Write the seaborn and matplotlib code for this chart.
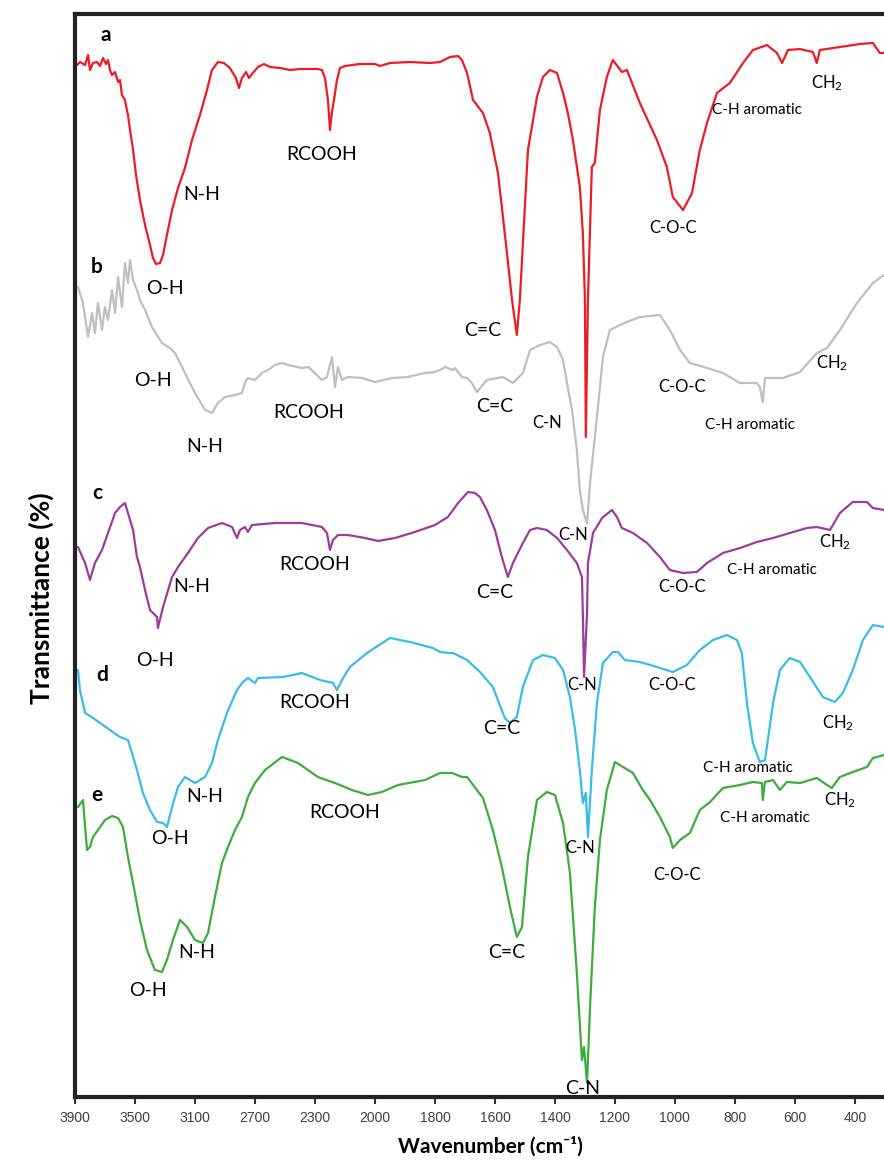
import numpy as np
import pandas as pd
import seaborn as sns
from matplotlib import pyplot as plt

# tick wavenumbers of the (non-linear) x axis
tick_wn = [3900, 3500, 3100, 2700, 2300, 2000, 1800, 1600, 1400, 1200, 1000, 800, 600, 400]

# spectra: wavenumber (cm-1) and stacked transmittance (arbitrary offset units)
a_wn = [3900, 3867, 3833, 3813, 3800, 3780, 3753, 3733, 3713, 3693, 3680, 3667, 3653, 3633, 3613, 3600,
        3587, 3567, 3547, 3533, 3513, 3493, 3467, 3433, 3400, 3380, 3360, 3333, 3313, 3287, 3253, 3213,
        3167, 3120, 3067, 3020, 2987, 2947, 2907, 2867, 2827, 2807, 2787, 2760, 2740, 2720, 2680, 2640,
        2600, 2533, 2467, 2400, 2285, 2265, 2250, 2235, 2225, 2215, 2205, 2190, 2175, 2150, 2075, 2000,
        1983, 1950, 1883, 1817, 1783, 1750, 1723, 1710, 1693, 1673, 1640, 1617, 1590, 1577, 1560, 1543,
        1527, 1517, 1490, 1460, 1440, 1417, 1393, 1373, 1357, 1340, 1317, 1307, 1300, 1297, 1290, 1277,
        1267, 1250, 1227, 1207, 1177, 1160, 1117, 1060, 1027, 1007, 973, 943, 917, 893, 860, 817,
        773, 740, 693, 660, 643, 623, 583, 540, 527, 517, 450, 383, 340, 317, 303]
a_t = [1030, 1035, 1032, 1042, 1027, 1034, 1035, 1031, 1039, 1033, 1037, 1027, 1022, 1025, 1015, 1017,
       1002, 997, 982, 967, 947, 922, 897, 872, 852, 839, 833, 834, 842, 862, 887, 909,
       929, 957, 982, 1007, 1027, 1035, 1034, 1029, 1019, 1009, 1019, 1025, 1019, 1023, 1030, 1033,
       1030, 1029, 1027, 1028, 1028, 1027, 1019, 997, 967, 985, 997, 1017, 1029, 1031, 1033, 1033,
       1031, 1034, 1035, 1034, 1035, 1040, 1041, 1037, 1024, 997, 984, 964, 924, 890, 844, 797,
       762, 797, 947, 1000, 1020, 1027, 1024, 1004, 984, 957, 910, 864, 797, 660, 797, 930,
       934, 987, 1020, 1037, 1025, 1027, 994, 957, 930, 900, 887, 904, 947, 974, 1004, 1014,
       1034, 1047, 1052, 1044, 1034, 1047, 1048, 1045, 1034, 1047, 1050, 1053, 1054, 1044, 1044]

b_wn = [3880, 3847, 3813, 3787, 3767, 3747, 3720, 3700, 3680, 3653, 3633, 3613, 3587, 3567, 3547, 3533,
        3513, 3487, 3467, 3433, 3387, 3320, 3267, 3233, 3167, 3100, 3033, 2987, 2947, 2900, 2833, 2787,
        2767, 2747, 2700, 2653, 2613, 2567, 2520, 2480, 2387, 2343, 2265, 2240, 2215, 2200, 2185, 2165,
        2135, 2065, 2000, 1943, 1890, 1833, 1800, 1783, 1767, 1740, 1733, 1710, 1693, 1677, 1660, 1627,
        1573, 1540, 1507, 1483, 1450, 1417, 1393, 1373, 1360, 1343, 1327, 1317, 1307, 1293, 1283, 1260,
        1240, 1217, 1183, 1160, 1117, 1050, 1017, 983, 950, 893, 840, 783, 727, 717, 707, 700,
        640, 583, 527, 493, 450, 393, 340, 303]
b_t = [810, 794, 760, 784, 764, 794, 767, 790, 777, 807, 784, 820, 790, 834, 814, 837,
       817, 807, 797, 787, 770, 754, 749, 744, 724, 704, 687, 684, 694, 700, 702, 704,
       714, 719, 717, 724, 727, 732, 734, 732, 729, 730, 717, 720, 740, 710, 730, 717,
       720, 719, 715, 719, 720, 724, 725, 727, 730, 727, 729, 720, 719, 714, 705, 717,
       720, 714, 724, 747, 752, 755, 750, 737, 714, 687, 647, 607, 587, 574, 614, 680,
       740, 767, 772, 775, 780, 782, 767, 747, 734, 729, 724, 714, 714, 710, 695, 719,
       719, 725, 744, 749, 767, 794, 814, 822]

c_wn = [3880, 3833, 3800, 3767, 3720, 3680, 3633, 3600, 3567, 3547, 3513, 3487, 3467, 3433, 3400, 3353,
        3347, 3313, 3253, 3213, 3147, 3080, 3013, 2920, 2853, 2820, 2800, 2767, 2747, 2720, 2567, 2387,
        2265, 2240, 2225, 2210, 2185, 2135, 2050, 1990, 1933, 1867, 1800, 1757, 1723, 1690, 1667, 1650,
        1627, 1600, 1577, 1557, 1540, 1507, 1483, 1460, 1427, 1393, 1360, 1327, 1310, 1307, 1303, 1293,
        1290, 1273, 1243, 1210, 1193, 1177, 1140, 1093, 1050, 1017, 973, 927, 893, 840, 783, 727,
        673, 617, 560, 527, 483, 450, 407, 360, 340, 303]
c_t = [550, 534, 517, 534, 547, 564, 584, 590, 594, 584, 567, 540, 530, 507, 487, 480,
       469, 490, 520, 530, 544, 559, 569, 574, 570, 559, 567, 570, 565, 572, 574, 574,
       570, 564, 547, 557, 562, 562, 559, 556, 559, 565, 572, 580, 594, 605, 604, 600,
       587, 567, 540, 520, 534, 554, 567, 569, 567, 559, 547, 534, 520, 484, 420, 484,
       534, 564, 579, 587, 580, 569, 564, 554, 540, 527, 524, 525, 534, 544, 549, 555,
       559, 564, 569, 570, 567, 584, 595, 595, 589, 587]

d_wn = [3880, 3867, 3833, 3780, 3733, 3667, 3600, 3547, 3520, 3487, 3447, 3400, 3353, 3313, 3287, 3253,
        3213, 3167, 3100, 3033, 2987, 2947, 2887, 2820, 2780, 2747, 2700, 2680, 2513, 2387, 2275, 2210,
        2190, 2165, 2125, 2040, 1950, 1883, 1807, 1783, 1750, 1740, 1693, 1650, 1607, 1567, 1550, 1527,
        1507, 1473, 1440, 1400, 1373, 1350, 1333, 1317, 1307, 1297, 1290, 1277, 1260, 1240, 1207, 1190,
        1167, 1117, 1060, 1007, 960, 917, 873, 827, 793, 777, 760, 740, 717, 700, 690, 673,
        650, 617, 583, 550, 507, 467, 440, 407, 373, 340, 303]
d_t = [427, 407, 384, 379, 374, 367, 360, 357, 344, 327, 304, 287, 275, 274, 270, 290,
       310, 320, 314, 320, 334, 357, 384, 407, 415, 419, 414, 419, 420, 424, 417, 414,
       407, 417, 430, 444, 459, 455, 449, 445, 444, 444, 437, 425, 410, 379, 374, 380,
       410, 437, 442, 439, 427, 400, 367, 327, 294, 304, 260, 327, 394, 434, 445, 445,
       437, 435, 430, 425, 432, 447, 457, 462, 457, 444, 394, 354, 335, 337, 357, 394,
       427, 439, 435, 420, 400, 395, 404, 427, 457, 472, 470]

e_wn = [3880, 3847, 3820, 3800, 3780, 3747, 3700, 3653, 3613, 3580, 3547, 3513, 3467, 3420, 3367, 3320,
        3287, 3247, 3200, 3153, 3100, 3047, 3013, 2967, 2920, 2880, 2833, 2787, 2747, 2700, 2633, 2520,
        2413, 2285, 2200, 2115, 2035, 1977, 1923, 1833, 1783, 1743, 1710, 1693, 1640, 1607, 1577, 1550,
        1527, 1510, 1490, 1460, 1427, 1400, 1373, 1350, 1327, 1310, 1303, 1293, 1283, 1267, 1250, 1227,
        1200, 1173, 1140, 1107, 1083, 1050, 1017, 1007, 983, 950, 917, 883, 840, 783, 740, 710,
        707, 700, 673, 650, 627, 583, 527, 493, 477, 450, 407, 360, 340, 303]
e_t = [290, 297, 247, 250, 260, 267, 277, 281, 279, 270, 240, 214, 177, 147, 127, 125,
       137, 157, 177, 170, 157, 154, 164, 200, 234, 250, 267, 280, 300, 314, 327, 340,
       334, 320, 314, 307, 302, 305, 312, 317, 324, 324, 320, 320, 299, 267, 230, 190,
       160, 170, 240, 297, 305, 302, 274, 224, 124, 37, 50, 14, 90, 190, 257, 307,
       335, 330, 324, 307, 297, 280, 260, 249, 257, 264, 287, 295, 309, 312, 315, 314,
       297, 315, 317, 307, 315, 314, 319, 312, 309, 320, 325, 330, 339, 342]

samples = ['a', 'b', 'c', 'd', 'e']
colors = ['#ed1c24', '#bfbfbf', '#9e3c9e', '#38bdea', '#3dad3d']

# sample letter positions (wavenumber, offset)
letter_pos = [(3693, 1062), (3753, 830), (3753, 604), (3720, 422), (3753, 302)]

# band assignments: (text, wavenumber, offset, size)
bands = [
    ('N-H', 3053, 902, 14), ('O-H', 3300, 809, 14), ('RCOOH', 2265, 942, 14), ('C=C', 1640, 767, 14),
    ('C-N', 1427, 674, 12), ('C-O-C', 1007, 869, 12), ('C-H aromatic', 727, 987, 11), ('CH$_2$', 493, 1014, 12),
    ('O-H', 3380, 717, 14), ('N-H', 3033, 650, 14), ('RCOOH', 2343, 684, 14), ('C=C', 1600, 690, 14),
    ('C-N', 1340, 562, 12), ('C-O-C', 977, 710, 12), ('C-H aromatic', 750, 672, 11), ('CH$_2$', 477, 734, 12),
    ('N-H', 3120, 510, 14), ('O-H', 3367, 437, 14), ('RCOOH', 2300, 532, 14), ('C=C', 1600, 504, 14),
    ('C-N', 1310, 412, 12), ('C-O-C', 977, 510, 12), ('C-H aromatic', 677, 527, 11), ('CH$_2$', 467, 555, 12),
    ('N-H', 3033, 300, 14), ('O-H', 3267, 259, 14), ('RCOOH', 2300, 395, 14), ('C=C', 1577, 369, 14),
    ('C-N', 1317, 249, 12), ('C-O-C', 1010, 412, 12), ('C-H aromatic', 757, 329, 11), ('CH$_2$', 457, 374, 12),
    ('O-H', 3413, 107, 14), ('N-H', 3087, 145, 14), ('RCOOH', 2150, 285, 14), ('C=C', 1560, 144, 14),
    ('C-N', 1307, 9, 14), ('C-O-C', 993, 222, 12), ('C-H aromatic', 700, 279, 11), ('CH$_2$', 450, 297, 12),
]

sns.set_theme(style='white')
plt.rcParams['font.family'] = ['Lato', 'DejaVu Sans']
plt.rcParams['mathtext.fontset'] = 'custom'
plt.rcParams['mathtext.rm'] = 'Lato'
plt.rcParams['mathtext.it'] = 'Lato:italic'

# equally spaced ticks -> piecewise linear scale
asc_wn = np.array([200] + tick_wn[::-1], dtype=float)
asc_pos = np.arange(len(asc_wn), dtype=float)


def fwd(x):
    return np.interp(x, asc_wn, asc_pos)


def inv(p):
    return np.interp(p, asc_pos, asc_wn)


fig = plt.figure(figsize=(8.84, 11.65), dpi=100)
ax = fig.add_axes([75 / 884, 68 / 1165, 809 / 884, 1083 / 1165])
ax.set_xscale('function', functions=(fwd, inv))

spectra = [(a_wn, a_t), (b_wn, b_t), (c_wn, c_t), (d_wn, d_t), (e_wn, e_t)]
for (wn, t), col in zip(spectra, colors):
    df = pd.DataFrame({'wn': wn, 't': t})
    sns.lineplot(data=df, x='wn', y='t', color=col, linewidth=1.6, sort=False, estimator=None, ax=ax)

for s, (x, y) in zip(samples, letter_pos):
    ax.text(x, y, s, fontsize=15, fontweight='bold', ha='center', va='center', color='black')

for txt, x, y, fs in bands:
    ax.text(x, y, txt, fontsize=fs, ha='center', va='center', color='black')

ax.set_xlim(3900, 303)
ax.set_ylim(0, 1083)
ax.set_xticks(tick_wn)
ax.set_xticklabels([str(v) for v in tick_wn], family=['Liberation Sans Narrow', 'Liberation Sans', 'DejaVu Sans'],
                   fontsize=10, color='#404040')
ax.set_yticks([])
ax.minorticks_off()
ax.tick_params(axis='x', bottom=True, direction='out', length=5, width=1.5, color='#333333', pad=5)

for side in ['left', 'top', 'bottom']:
    ax.spines[side].set_linewidth(3)
    ax.spines[side].set_color('#222222')
ax.spines['right'].set_visible(False)

ax.set_xlabel('Wavenumber (cm⁻¹)', fontsize=15, fontweight='bold', color='black',
              family=['Lato', 'DejaVu Sans'])
ax.set_ylabel('Transmittance (%)', fontsize=19, fontweight='bold', color='black')
ax.xaxis.set_label_coords(0.513, -0.036)
ax.yaxis.set_label_coords(-0.026, 0.461)

plt.savefig('out.png', dpi=100)
